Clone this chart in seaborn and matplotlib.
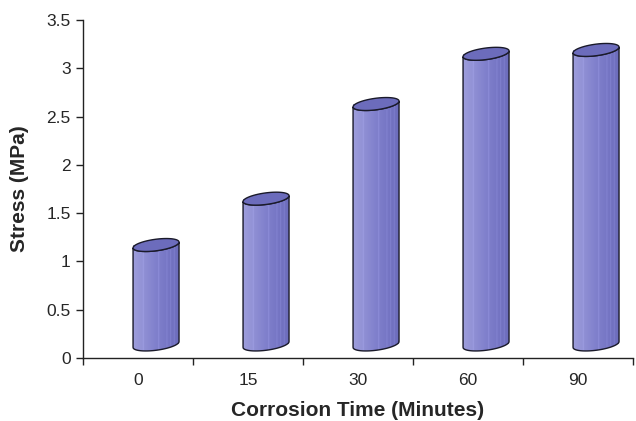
import numpy as np
import pandas as pd
import matplotlib
matplotlib.use("Agg")
import matplotlib.pyplot as plt
import seaborn as sns
from matplotlib.path import Path
from matplotlib.patches import PathPatch, Polygon

# ---- data ----
categories = ["0", "15", "30", "60", "90"]
stress = [1.12, 1.6, 2.58, 3.1, 3.14]
yticks = [0, 0.5, 1, 1.5, 2, 2.5, 3, 3.5]
ytick_labels = ["0", "0.5", "1", "1.5", "2", "2.5", "3", "3.5"]

df = pd.DataFrame({"time": categories, "stress": stress})

sns.set_style("white")
plt.rcParams["font.family"] = ["Liberation Sans", "DejaVu Sans"]

fig = plt.figure(figsize=(6.36, 4.21), dpi=100)
ax = fig.add_axes([83/636, 1-358/421, 550/636, 338/421])

sns.barplot(data=df, x="time", y="stress", order=categories, color="#8484cc",
            width=0.418, ax=ax, zorder=2)

ax.set_xlim(-0.5, 4.5)
ax.set_ylim(0, 3.5)

shift = 0.164
y_bot = 0.14
cap_h = 0.12
skew = 0.03
top_pad = 0.05

# gradient for cylinder body
N = 200
xs = np.linspace(0, 1, N)
left = np.array([158, 158, 220]) / 255
mid = np.array([128, 128, 204]) / 255
right = np.array([108, 108, 188]) / 255
cols = np.where(xs[:, None] < 0.5,
                left + (mid - left) * (xs[:, None] / 0.5),
                mid + (right - mid) * ((xs[:, None] - 0.5) / 0.5))
for s in [0.22, 0.56, 0.74, 0.82, 0.9]:
    idx = (np.abs(xs - s) < 0.008)
    cols[idx] = np.minimum(cols[idx] + 0.07, 1)
grad = cols[None, :, :]

t_low = np.linspace(np.pi, 2 * np.pi, 60)
t_full = np.linspace(0, 2 * np.pi, 120)

for p, val in zip(ax.patches, stress):
    w = p.get_width()
    x0 = p.get_x() + shift
    cx = x0 + w / 2
    y_top = val + top_pad
    p.set_x(x0)
    p.set_y(y_bot)
    p.set_height(y_top - y_bot)
    p.set_edgecolor("none")

    top_arc_x = cx + w / 2 * np.cos(t_low)
    top_arc_y = y_top + cap_h / 2 * np.sin(t_low) + skew * np.cos(t_low)
    bot_arc_x = (cx + w / 2 * np.cos(t_low))[::-1]
    bot_arc_y = (y_bot + cap_h / 2 * np.sin(t_low) + skew * np.cos(t_low))[::-1]
    verts = []
    verts.append((x0, y_bot - skew))
    verts.append((x0, y_top - skew))
    verts += list(zip(top_arc_x, top_arc_y))
    verts.append((x0 + w, y_bot + skew))
    verts += list(zip(bot_arc_x, bot_arc_y))
    verts.append((x0, y_bot - skew))
    path = Path(verts)
    outline = PathPatch(path, facecolor="none", edgecolor="#1a1a2a", lw=1.0, zorder=4)
    ax.add_patch(outline)
    clip = PathPatch(path, facecolor="none", edgecolor="none", transform=ax.transData)
    im = ax.imshow(grad, extent=[x0, x0 + w, y_bot - cap_h, y_top + cap_h],
                   aspect="auto", zorder=3, interpolation="bilinear")
    im.set_clip_path(clip)

    cap_x = cx + w / 2 * np.cos(t_full)
    cap_y = y_top + cap_h / 2 * np.sin(t_full) + skew * np.cos(t_full)
    cap = Polygon(np.column_stack([cap_x, cap_y]), closed=True,
                  facecolor="#6c6cbc", edgecolor="#1a1a2a", lw=1.0, zorder=5)
    ax.add_patch(cap)

ax.set_xlim(-0.5, 4.5)
ax.set_ylim(0, 3.5)

for sp in ["top", "right"]:
    ax.spines[sp].set_visible(False)
for sp in ["left", "bottom"]:
    ax.spines[sp].set_color("#222222")
    ax.spines[sp].set_linewidth(1.0)

ax.set_yticks(yticks)
ax.set_yticklabels(ytick_labels, fontsize=12.5)
ax.tick_params(axis="y", length=5, width=1, color="#222222", pad=4, left=True)
ax.set_xticks(range(len(categories)))
ax.set_xticklabels(categories, fontsize=12.5)
ax.tick_params(axis="x", which="major", length=0, pad=11)
ax.set_xticks(np.arange(-0.5, 5.0, 1.0), minor=True)
ax.tick_params(axis="x", which="minor", length=5, width=1, color="#222222", bottom=True)

ax.set_xlabel("Corrosion Time (Minutes)", fontsize=15, fontweight="bold", labelpad=9)
ax.set_ylabel("Stress (MPa)", fontsize=15, fontweight="bold", labelpad=12)
ax.grid(False)

fig.savefig("out.png", dpi=100)
